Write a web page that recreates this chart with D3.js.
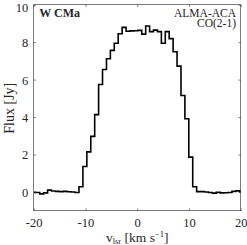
<!DOCTYPE html>
<html>
<head>
<meta charset="utf-8">
<script src="https://cdn.jsdelivr.net/npm/d3@7"></script>
<style>
  html, body { margin: 0; padding: 0; background: #fff; }
  svg { display: block; }
  svg text { font-family: "Liberation Serif", "DejaVu Serif", serif; fill: #262626; }
</style>
</head>
<body>
<svg id="chart" width="247" height="245"></svg>
<script>
// Channel centre velocities (km/s)
const velocity = [
  -19.97, -19.21, -18.45, -17.69, -16.94, -16.18, -15.42, -14.66, -13.90, -13.14, -12.39, -11.63,
  -10.87, -10.11, -9.35, -8.59, -7.84, -7.08, -6.32, -5.56, -4.81, -4.05, -3.29, -2.53,
  -1.77, -1.02, -0.26, 0.50, 1.26, 2.02, 2.77, 3.53, 4.29, 5.05, 5.80, 6.56,
  7.32, 8.08, 8.84, 9.59, 10.35, 11.11,
  11.87, 12.63, 13.38, 14.14, 14.90, 15.66, 16.42, 17.17, 17.93, 18.69, 19.45, 20.21
];
// Flux density (Jy)
const flux = [
  -0.02, -0.03, -0.10, -0.05, 0.10, 0.05, 0.03, 0.02, 0.03, 0.01, 0.00, -0.03,
  0.28, 1.36, 2.14, 2.97, 4.13, 5.74, 6.54, 7.11, 7.56, 7.94, 8.45, 8.79,
  8.58, 8.60, 8.61, 8.63, 8.43, 8.86, 8.56, 8.64, 8.56, 7.94, 8.56, 8.19,
  7.49, 6.72, 5.15, 3.91, 1.86, 0.28,
  0.02, 0.02, 0.00, -0.03, -0.06, -0.02, -0.05, -0.04, -0.03, 0.03, 0.06, 0.02
];
const xTicks = [-20, -10, 0, 10, 20];
const yTicks = [0, 2, 4, 6, 8, 10];
const xDomain = [-20, 20];
const yDomain = [-1, 10];
const sourceLabel = "W CMa";
const instrumentLabel = "ALMA-ACA";
const lineLabel = "CO(2-1)";

const FONT = '"Liberation Serif", "DejaVu Serif", serif';
const svg = d3.select("#chart");
const L = 33.7, R = 240.7, T = 4.7, B = 210.7;
const x = d3.scaleLinear().domain(xDomain).range([L, R]);
const y = d3.scaleLinear().domain(yDomain).range([B, T]);
const axisColor = "#262626";

svg.append("defs").append("clipPath").attr("id", "clip")
  .append("rect").attr("x", L).attr("y", T).attr("width", R - L).attr("height", B - T);

// spectrum
const data = velocity.map((v, i) => [v, flux[i]]);
svg.append("path")
  .datum(data)
  .attr("clip-path", "url(#clip)")
  .attr("fill", "none")
  .attr("stroke", "#000")
  .attr("stroke-width", 1.6)
  .attr("d", d3.line().x(d => x(d[0])).y(d => y(d[1])).curve(d3.curveStep));

// axes
function styleAxis(g) {
  g.attr("font-family", FONT);
  g.select(".domain").remove();
  g.selectAll(".tick line").attr("stroke", axisColor).attr("stroke-width", 0.6);
  g.selectAll("text").attr("fill", axisColor).style("font-size", "12.5px").style("font-family", FONT);
}
const gx = svg.append("g").attr("transform", `translate(0,${B})`)
  .call(d3.axisBottom(x).tickValues(xTicks).tickSizeInner(-2.2).tickSizeOuter(0).tickFormat(d3.format("d")));
styleAxis(gx);
gx.selectAll("text").attr("y", 16).attr("dy", null).text(d => String(d));

const gxt = svg.append("g").attr("transform", `translate(0,${T})`)
  .call(d3.axisTop(x).tickValues(xTicks).tickSizeInner(-2.2).tickSizeOuter(0).tickFormat(""));
styleAxis(gxt);

const gy = svg.append("g").attr("transform", `translate(${L},0)`)
  .call(d3.axisLeft(y).tickValues(yTicks).tickSizeInner(-2.2).tickSizeOuter(0).tickFormat(d3.format("d")));
styleAxis(gy);
// baseline a little below the tick; keep the top label inside the picture
gy.selectAll("text").attr("x", -5.5).attr("dy", null)
  .attr("y", d => Math.max(4.4, 11.2 - y(d)));

const gyr = svg.append("g").attr("transform", `translate(${R},0)`)
  .call(d3.axisRight(y).tickValues(yTicks).tickSizeInner(-2.2).tickSizeOuter(0).tickFormat(""));
styleAxis(gyr);

// frame
svg.append("rect").attr("x", L).attr("y", T).attr("width", R - L).attr("height", B - T)
  .attr("fill", "none").attr("stroke", axisColor).attr("stroke-width", 0.6);

// labels inside
svg.append("text").attr("x", 39.3).attr("y", 16.7)
  .style("font-family", FONT)
  .style("font-size", "12px").style("font-weight", "bold").attr("fill", "#111").text(sourceLabel);
svg.append("text").attr("x", 236).attr("y", 16.5).attr("text-anchor", "end")
  .style("font-family", FONT)
  .style("font-size", "11.5px").attr("fill", "#111").text(instrumentLabel);
svg.append("text").attr("x", 236).attr("y", 27).attr("text-anchor", "end")
  .style("font-family", FONT)
  .style("font-size", "11.5px").attr("fill", "#111").text(lineLabel);

// x label
const xl = svg.append("text").attr("x", (L + R) / 2).attr("y", 241.5).attr("text-anchor", "middle")
  .style("font-family", FONT)
  .style("font-size", "13.5px").attr("fill", axisColor);
xl.append("tspan").text("v");
xl.append("tspan").attr("dy", 2.5).style("font-size", "8.5px").text("lsr");
xl.append("tspan").attr("dy", -2.5).text(" [km s");
xl.append("tspan").attr("dy", -5).style("font-size", "8.5px").text("−1");
xl.append("tspan").attr("dy", 5).text("]");

// y label
svg.append("text")
  .attr("transform", `translate(14,${(T + B) / 2 + 0.5}) rotate(-90)`)
  .attr("text-anchor", "middle")
  .style("font-family", FONT)
  .style("font-size", "14px").attr("fill", axisColor)
  .text("Flux [Jy]");
</script>
</body>
</html>
